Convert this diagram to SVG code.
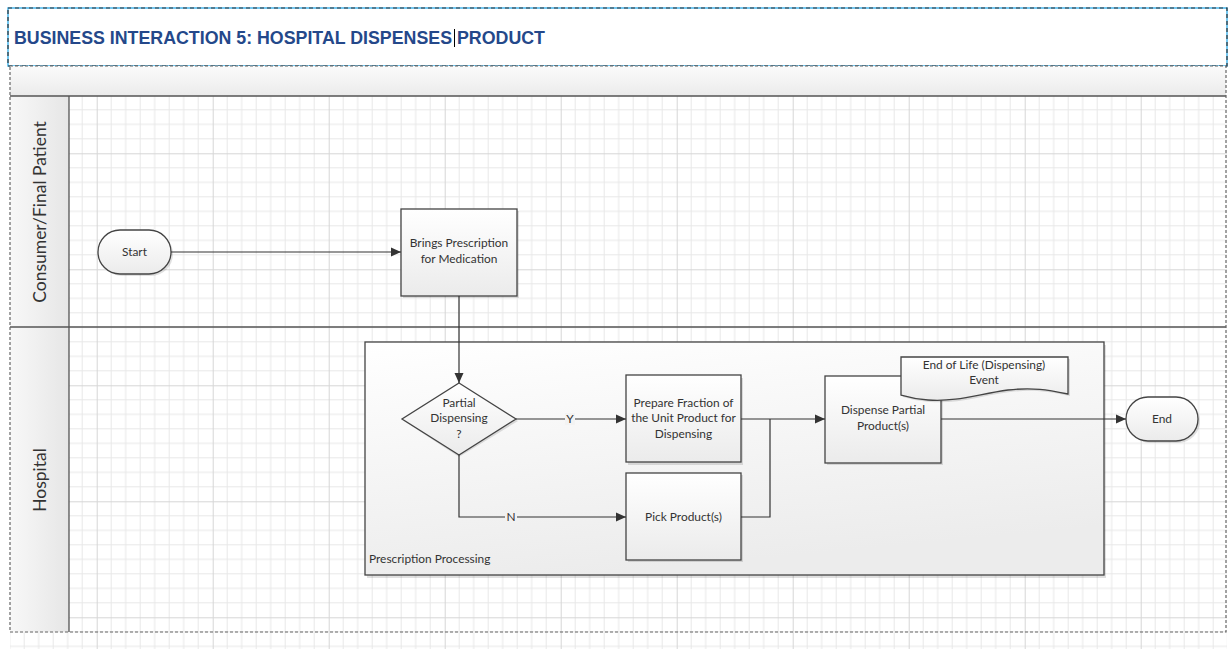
<svg xmlns="http://www.w3.org/2000/svg" width="1230" height="649" viewBox="0 0 1230 649">
<style>
.t{font-family:Lato,"Liberation Sans",sans-serif;font-size:11.9px;fill:#333;text-anchor:middle}
.lane{font-family:Lato,"Liberation Sans",sans-serif;font-size:17.5px;fill:#333;text-anchor:middle}
.box{fill:url(#nodeG);stroke:#444;stroke-width:1.3}
.sh{fill:#000;opacity:0.12}
.con{fill:none;stroke:#333;stroke-width:1.2}
.ttl{font-family:"Liberation Sans",Arial,sans-serif;font-weight:bold;font-size:17.5px;fill:#24488a}
</style>
<defs>
<pattern id="grid" patternUnits="userSpaceOnUse" x="96.7" y="37.3" width="116" height="116">
<rect width="116" height="116" fill="#fff"/>
<g stroke="#e8e8e8" stroke-width="1">
<path d="M14.5 0V116M29 0V116M43.5 0V116M58 0V116M72.5 0V116M87 0V116M101.5 0V116"/>
<path d="M0 14.5H116M0 29H116M0 43.5H116M0 58H116M0 72.5H116M0 87H116M0 101.5H116"/>
</g>
<path d="M0.5 0V116M0 0.5H116" stroke="#d6d6d6" stroke-width="1"/>
</pattern>
<linearGradient id="nodeG" x1="0" y1="0" x2="0" y2="1">
<stop offset="0" stop-color="#ffffff"/><stop offset="1" stop-color="#ebebeb"/>
</linearGradient>
<linearGradient id="contG" x1="0" y1="0" x2="0.3" y2="1">
<stop offset="0" stop-color="#ffffff"/><stop offset="1" stop-color="#ececec"/>
</linearGradient>
<linearGradient id="bandG" x1="0" y1="0" x2="0" y2="1">
<stop offset="0" stop-color="#fbfbfb"/><stop offset="1" stop-color="#ebebeb"/>
</linearGradient>
<linearGradient id="laneG" x1="0" y1="0" x2="1" y2="0">
<stop offset="0" stop-color="#f8f8f8"/><stop offset="1" stop-color="#e6e6e6"/>
</linearGradient>
<marker id="arr" viewBox="0 0 10 10" refX="10" refY="5" markerWidth="10" markerHeight="10" markerUnits="userSpaceOnUse" orient="auto">
<path d="M0 0.5L10 5L0 9.5z" fill="#333"/>
</marker>
</defs>

<rect width="1230" height="649" fill="#fff"/>
<rect x="10" y="96" width="1217" height="553" fill="url(#grid)"/>

<g id="title">
<rect x="8" y="8" width="1219" height="58" fill="#fff" stroke="#3ab0ea" stroke-width="1.4"/>
<rect x="8" y="8" width="1219" height="58" fill="none" stroke="#333" stroke-width="1.2" stroke-dasharray="4 3"/>
<text x="14" y="43.5" class="ttl" textLength="438" lengthAdjust="spacingAndGlyphs">BUSINESS INTERACTION 5: HOSPITAL DISPENSES</text>
<text x="457" y="43.5" class="ttl" textLength="88" lengthAdjust="spacingAndGlyphs">PRODUCT</text>
<line x1="454.5" y1="29" x2="454.5" y2="47" stroke="#000" stroke-width="1"/>
</g>

<g id="pool">
<rect x="10" y="66" width="1216" height="30" fill="url(#bandG)"/>
<rect x="10" y="96" width="59" height="231" fill="url(#laneG)"/>
<rect x="10" y="327" width="59" height="305" fill="url(#laneG)"/>
<path d="M10 96H1226M10 327H1226M69 96V632" stroke="#555" stroke-width="1.3" fill="none"/>
<rect x="10" y="66" width="1216" height="566" fill="none" stroke="#666" stroke-width="1.2" stroke-dasharray="3 2"/>
</g>

<g id="lane-consumer">
<text class="lane" transform="translate(46,212) rotate(-90)">Consumer/Final Patient</text>
</g>
<g id="lane-hospital">
<text class="lane" transform="translate(46,480) rotate(-90)">Hospital</text>
</g>

<g id="prescription-processing">
<rect x="367" y="345" width="739" height="233" class="sh"/>
<rect x="365" y="342" width="739" height="233" fill="url(#contG)" stroke="#444" stroke-width="1.3"/>
<text x="369" y="563" class="t" style="text-anchor:start">Prescription Processing</text>
</g>

<g id="start">
<rect x="100" y="232" width="73" height="44" rx="22" class="sh"/>
<rect x="98" y="230" width="73" height="44" rx="22" class="box"/>
<text x="134.5" y="256" class="t">Start</text>
</g>

<g id="brings">
<rect x="403" y="211" width="116" height="87" class="sh"/>
<rect x="401" y="209" width="116" height="87" class="box"/>
<text x="459" y="247" class="t">Brings Prescription</text>
<text x="459" y="263" class="t">for Medication</text>
</g>

<g id="decision">
<path d="M459 385L518 421L459 457L404 421z" class="sh"/>
<path d="M459 383L516 419L459 455L402 419z" class="box"/>
<text x="459" y="407" class="t">Partial</text>
<text x="459" y="422" class="t">Dispensing</text>
<text x="459" y="438" class="t">?</text>
</g>

<g id="prepare">
<rect x="628" y="378" width="115" height="87" class="sh"/>
<rect x="626" y="375" width="115" height="87" class="box"/>
<text x="683.5" y="407" class="t">Prepare Fraction of</text>
<text x="683.5" y="422" class="t">the Unit Product for</text>
<text x="683.5" y="438" class="t">Dispensing</text>
</g>

<g id="pick">
<rect x="628" y="475" width="115" height="87" class="sh"/>
<rect x="626" y="473" width="115" height="87" class="box"/>
<text x="683.5" y="521" class="t">Pick Product(s)</text>
</g>

<g id="dispense">
<rect x="827" y="378" width="116" height="87" class="sh"/>
<rect x="825" y="376" width="116" height="87" class="box"/>
<text x="883" y="414" class="t">Dispense Partial</text>
<text x="883" y="430" class="t">Product(s)</text>
</g>

<g id="eol-event">
<path d="M903 359H1070V396C1050 392 1035 389 1010 392C980 396 960 404 930 402C918 401 910 399 903 397z" class="sh"/>
<path d="M901 357H1068V394C1048 390 1033 387 1008 390C978 394 958 402 928 400C916 399 908 397 901 395z" fill="url(#nodeG)" stroke="#444" stroke-width="1.3"/>
<text x="984" y="369" class="t">End of Life (Dispensing)</text>
<text x="984" y="384" class="t">Event</text>
</g>

<g id="end">
<rect x="1128" y="399" width="72" height="44" rx="22" class="sh"/>
<rect x="1126" y="397" width="72" height="44" rx="22" class="box"/>
<text x="1162" y="423" class="t">End</text>
</g>

<g id="connectors">
<path d="M171 252H401" class="con" marker-end="url(#arr)"/>
<path d="M459 296V383" class="con" marker-end="url(#arr)"/>
<path d="M516 419H626" class="con" marker-end="url(#arr)"/>
<path d="M459 455V517H626" class="con" marker-end="url(#arr)"/>
<path d="M741 419H825" class="con" marker-end="url(#arr)"/>
<path d="M741 517H770V419" class="con"/>
<path d="M941 419H1126" class="con" marker-end="url(#arr)"/>
<rect x="565" y="413" width="10" height="12" fill="#f3f3f3"/>
<text x="570" y="423" class="t">Y</text>
<rect x="505" y="511" width="12" height="12" fill="#f1f1f1"/>
<text x="511" y="521" class="t">N</text>
</g>
</svg>
